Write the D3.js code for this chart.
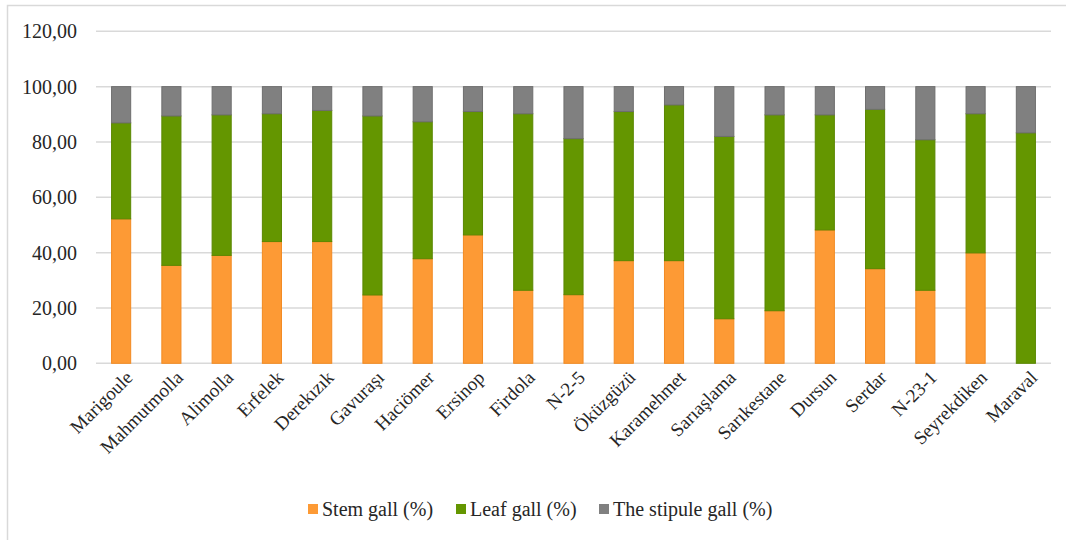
<!DOCTYPE html>
<html>
<head>
<meta charset="utf-8">
<script src="https://cdn.jsdelivr.net/npm/d3@7"></script>
<style>
  body { margin: 0; background: #fff; }
  svg text { font-family: "Liberation Serif", "DejaVu Serif", serif !important; fill: #262626; }
</style>
</head>
<body>
<svg id="chart" width="1066" height="540"></svg>
<script>
// cultivar names
var cultivars = ["Marigoule", "Mahmutmolla", "Alimolla", "Erfelek", "Derekızık", "Gavuraşı",
  "Haciömer", "Ersinop", "Firdola", "N-2-5", "Öküzgüzü", "Karamehmet", "Sarıaşlama",
  "Sarıkestane", "Dursun", "Serdar", "N-23-1", "Seyrekdiken", "Maraval"];

// percentages per gall type
var stemGall = [52.2, 35.4, 39.0, 44.0, 44.0, 24.7, 37.8, 46.4, 26.4, 24.8, 37.1, 37.1, 16.1, 19.0, 48.2, 34.2, 26.4, 39.9, 0];
var leafGall = [34.7, 54.0, 50.8, 46.2, 47.4, 64.7, 49.5, 44.6, 63.8, 56.4, 53.9, 56.3, 65.9, 70.8, 41.6, 57.6, 54.4, 50.3, 83.3];
var stipuleGall = [13.1, 10.6, 10.2, 9.8, 8.6, 10.6, 12.7, 9.0, 9.8, 18.8, 9.0, 6.6, 18.0, 10.2, 10.2, 8.2, 19.2, 9.8, 16.7];

var seriesNames = ["Stem gall (%)", "Leaf gall (%)", "The stipule gall (%)"];
var seriesKeys = ["stem", "leaf", "stipule"];
var yTicks = [0, 20, 40, 60, 80, 100, 120];

var colors = { stem: "#fd9a35", leaf: "#649600", stipule: "#808080" };
var strokes = { stem: "#f28a22", leaf: "#5a8700", stipule: "#6e6e6e" };

var table = cultivars.map(function(c, i) {
  return { name: c, stem: stemGall[i], leaf: leafGall[i], stipule: stipuleGall[i] };
});

var svg = d3.select("#chart");

// outer frame of the chart area (runs off the right and bottom of the picture)
svg.append("rect")
  .attr("x", 7.5).attr("y", 5.5)
  .attr("width", 1100).attr("height", 600)
  .attr("fill", "none")
  .attr("stroke", "#d9d9d9")
  .attr("stroke-width", 1.5);

var x = d3.scaleBand().domain(cultivars).range([96, 1051]).paddingInner(0.6).paddingOuter(0.3);
var y = d3.scaleLinear().domain([0, 120]).range([363.3, 31.3]);

// gridlines
svg.append("g").selectAll("line")
  .data(yTicks)
  .enter().append("line")
    .attr("x1", 96).attr("x2", 1051)
    .attr("y1", function(d) { return y(d); })
    .attr("y2", function(d) { return y(d); })
    .attr("stroke", "#d9d9d9")
    .attr("stroke-width", 1.5);

// y axis labels
var yAxis = d3.axisLeft(y).tickValues(yTicks).tickSize(0).tickPadding(0)
  .tickFormat(function(d) { return d3.format(".2f")(d).replace(".", ","); });
var yg = svg.append("g").attr("transform", "translate(77,0)").call(yAxis)
  .attr("font-family", "Liberation Serif").attr("font-size", 20);
yg.select(".domain").remove();
yg.selectAll("text").attr("fill", "#262626");

// stacked bars
var stack = d3.stack().keys(seriesKeys);
var layers = stack(table);

svg.append("g").selectAll("g")
  .data(layers)
  .enter().append("g")
    .attr("fill", function(d) { return colors[d.key]; })
    .attr("stroke", function(d) { return strokes[d.key]; })
  .selectAll("rect")
  .data(function(d) { return d; })
  .enter().append("rect")
    .attr("x", function(d) { return x(d.data.name) + 0.5; })
    .attr("width", x.bandwidth() - 1)
    .attr("y", function(d) { return y(d[1]); })
    .attr("height", function(d) { return Math.max(0, y(d[0]) - y(d[1])); })
    .attr("stroke-width", 1);

// x axis labels, rotated
svg.append("g").selectAll("text")
  .data(cultivars)
  .enter().append("text")
    .attr("transform", function(d) {
      return "translate(" + (x(d) + x.bandwidth() / 2 + 8) + ",374) rotate(-45)";
    })
    .attr("text-anchor", "end")
    .attr("dy", "0.35em")
    .attr("font-family", "Liberation Serif")
    .style("font-size", "19px")
    .text(function(d) { return d; });

// legend
var legendX = [308, 456, 599];
var legend = svg.append("g").selectAll("g")
  .data(seriesKeys)
  .enter().append("g")
    .attr("transform", function(d, i) { return "translate(" + legendX[i] + ",509)"; });

legend.append("rect")
  .attr("x", 0).attr("y", -5)
  .attr("width", 10).attr("height", 10)
  .attr("fill", function(d) { return colors[d]; });

legend.append("text")
  .attr("x", 14).attr("dy", "0.35em")
  .attr("font-family", "Liberation Serif")
  .style("font-size", "20px")
  .text(function(d, i) { return seriesNames[i]; });
</script>
</body>
</html>
